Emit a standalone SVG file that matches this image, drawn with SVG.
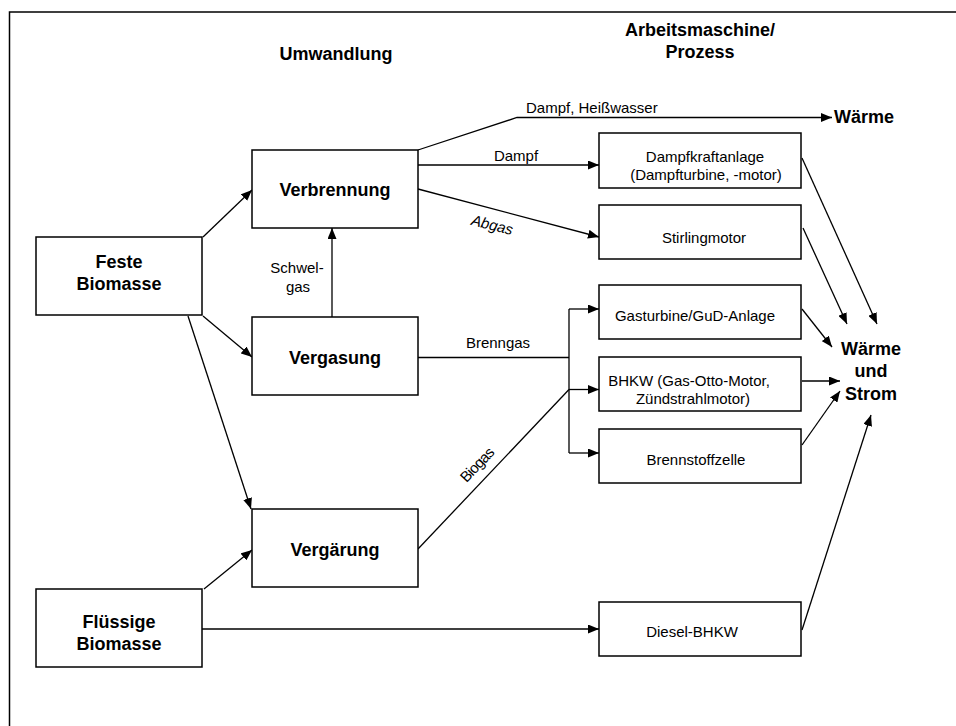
<svg xmlns="http://www.w3.org/2000/svg" width="956" height="726" viewBox="0 0 956 726">
<defs>
<marker id="ah" markerUnits="userSpaceOnUse" markerWidth="11" markerHeight="9" refX="11" refY="4.5" orient="auto"><path d="M0,0 L11,4.5 L0,9 z" fill="#000"/></marker>
<style>
.box{fill:#fff;stroke:#000;stroke-width:1.5}
.b{font-family:"Liberation Sans",Arial,sans-serif;font-weight:bold;font-size:18px;fill:#000;text-anchor:middle}
.r{font-family:"Liberation Sans",Arial,sans-serif;font-size:15px;fill:#000;text-anchor:middle}
.c{fill:none;stroke:#000;stroke-width:1.3}
.a{marker-end:url(#ah)}
</style>
</defs>
<rect width="956" height="726" fill="#fff"/>
<path d="M9.5,726 V12 H956" fill="none" stroke="#000" stroke-width="1.5"/>
<text class="b" x="336" y="60">Umwandlung</text>
<text class="b" x="700" y="36">Arbeitsmaschine/</text>
<text class="b" x="700" y="58">Prozess</text>

<g id="connectors">
<line class="c a" x1="203" y1="237" x2="252" y2="190"/>
<line class="c a" x1="203" y1="316" x2="252" y2="357"/>
<line class="c a" x1="188" y1="316" x2="251" y2="509"/>
<line class="c a" x1="204" y1="589" x2="252" y2="550"/>
<line class="c a" x1="332" y1="317" x2="332" y2="228"/>
<polyline class="c a" points="418,150 517,117.5 832,117.5"/>
<line class="c a" x1="418" y1="165" x2="599" y2="165"/>
<line class="c a" x1="418" y1="189" x2="599" y2="237"/>
<polyline class="c" points="418,357.5 569,357.5"/>
<line class="c" x1="569" y1="309" x2="569" y2="453"/>
<line class="c a" x1="569" y1="309" x2="599" y2="309"/>
<line class="c a" x1="569" y1="389.5" x2="599" y2="389.5"/>
<line class="c a" x1="569" y1="453" x2="599" y2="453"/>
<line class="c" x1="418" y1="549" x2="569" y2="389.5"/>
<line class="c a" x1="202" y1="629" x2="599" y2="629"/>
<line class="c a" x1="802" y1="158" x2="877" y2="324"/>
<line class="c a" x1="803" y1="228" x2="847" y2="324"/>
<line class="c a" x1="802" y1="309" x2="832" y2="347"/>
<line class="c a" x1="802" y1="381" x2="840" y2="381"/>
<line class="c a" x1="802" y1="445" x2="840" y2="391"/>
<line class="c a" x1="802" y1="630" x2="871" y2="415"/>
<text class="r" x="526" y="113" text-anchor="start" style="text-anchor:start">Dampf, Heißwasser</text>
<text class="r" x="516" y="161">Dampf</text>
<text class="r" x="492" y="230" font-style="italic" transform="rotate(14 492 226)">Abgas</text>
<text class="r" x="297" y="273">Schwel-</text>
<text class="r" x="298" y="292">gas</text>
<text class="r" x="498" y="348">Brenngas</text>
<text class="r" x="477" y="470" font-size="14" letter-spacing="-0.8" transform="rotate(-46.6 477 465)">Biogas</text>
</g>

<g id="n-feste"><rect class="box" x="36" y="237" width="166" height="78"/><text class="b" x="119" y="268">Feste</text><text class="b" x="119" y="290">Biomasse</text></g>
<g id="n-fluessige"><rect class="box" x="36" y="589" width="166" height="78"/><text class="b" x="119" y="628">Flüssige</text><text class="b" x="119" y="650">Biomasse</text></g>
<g id="n-verbrennung"><rect class="box" x="252" y="150" width="166" height="78"/><text class="b" x="335" y="196">Verbrennung</text></g>
<g id="n-vergasung"><rect class="box" x="252" y="317" width="166" height="78"/><text class="b" x="335" y="364">Vergasung</text></g>
<g id="n-vergaerung"><rect class="box" x="252" y="509" width="166" height="78"/><text class="b" x="335" y="556">Vergärung</text></g>
<g id="n-dampfkraft"><rect class="box" x="599" y="133" width="202" height="55"/><text class="r" x="705" y="162">Dampfkraftanlage</text><text class="r" x="706" y="180">(Dampfturbine, -motor)</text></g>
<g id="n-stirling"><rect class="box" x="599" y="205" width="202" height="54"/><text class="r" x="704" y="243">Stirlingmotor</text></g>
<g id="n-gasturbine"><rect class="box" x="599" y="285" width="202" height="54"/><text class="r" x="695" y="321">Gasturbine/GuD-Anlage</text></g>
<g id="n-bhkw"><rect class="box" x="599" y="357" width="202" height="54"/><text class="r" x="689" y="386">BHKW (Gas-Otto-Motor,</text><text class="r" x="693" y="404">Zündstrahlmotor)</text></g>
<g id="n-brennstoffzelle"><rect class="box" x="599" y="429" width="202" height="54"/><text class="r" x="696" y="465">Brennstoffzelle</text></g>
<g id="n-diesel"><rect class="box" x="599" y="602" width="202" height="54"/><text class="r" x="692" y="637">Diesel-BHKW</text></g>
<g id="n-waerme"><text class="b" x="834" y="123" style="text-anchor:start">Wärme</text></g>
<g id="n-waerme-strom"><text class="b" x="871" y="355">Wärme</text><text class="b" x="871" y="377">und</text><text class="b" x="871" y="400">Strom</text></g>
</svg>
